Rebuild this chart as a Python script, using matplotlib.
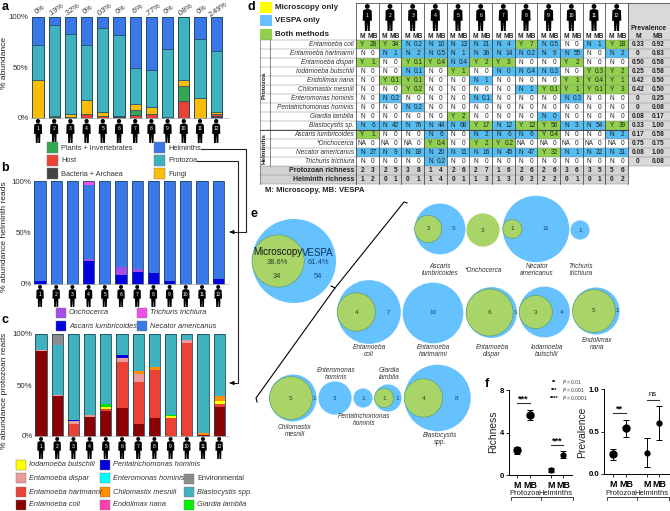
#!/usr/bin/env python3
"""Multi panel figure: stacked bars, VESPA/microscopy table, venn circles, dot plots"""

import matplotlib
matplotlib.use('Agg')
import matplotlib.pyplot as plt
from matplotlib.patches import Circle, Polygon, Rectangle
import numpy as np

plt.rcParams['font.family'] = ['Liberation Sans', 'DejaVu Sans']

W, H = 670, 511
PEOPLE = [str(i) for i in range(1, 13)]

# panel a
A_PCT = ['0%', '.19%', '.32%', '0%', '.03%', '0%', '.6%', '.77%', '0%', '.08%', '0%', '2.49%']
A_BACTERIA = [0, 0.5, 0, 0, 0, 0.5, 0, 0, 0, 0, 0, 1.5]
A_HOST = [0, 0.5, 1, 4, 1.5, 1, 3, 3.5, 0, 17, 0, 2]
A_PLANTS = [0, 0, 0, 0, 0, 0, 5, 0, 0, 15, 0, 0]
A_FUNGI = [37.5, 1, 2.5, 14, 4, 0.5, 6, 7.5, 1, 6, 20, 2.5]
A_PROTOZOA = [34.5, 89.5, 79, 54.5, 83.5, 79.5, 35, 36.5, 67, 62, 58, 60.5]
A_HELMINTHS = [28, 8.5, 17.5, 27.5, 11, 18.5, 51, 52.5, 32, 0, 22, 33.5]

# panel b
B_ASCARIS = [3, 0, 0, 22, 0, 8.5, 12, 11, 2.5, 0, 0, 4.5]
B_ONCHO = [0, 0, 0, 2.5, 0, 8, 3, 0, 0, 0, 0, 0]
B_NECATOR = [97, 100, 100, 71.5, 100, 83.5, 85, 89, 97.5, 100, 100, 95.5]
B_TRICHURIS = [0, 0, 0, 4, 0, 0, 0, 0, 0, 0, 0, 0]

# panel c
C_COLI = [83, 39.5, 0, 19, 24.7, 27, 11.5, 18, 0, 0, 1, 28]
C_HARTMANNI = [0, 0, 12, 0, 1.3, 46, 41.5, 47, 18, 91, 0, 3]
C_DISPAR = [1.5, 0.5, 2.5, 2, 0, 3.3, 7.5, 0, 0, 3, 0, 0]
C_IODAMOEBA = [0, 0, 0, 0, 2, 0, 0, 0, 1.5, 0, 0, 3]
C_CHILOMASTIX = [0, 0, 0, 0, 0, 0, 3.5, 3, 0, 0, 1.5, 5.5]
C_GIARDIA = [0, 0, 0, 0, 3, 0, 0, 0, 1.5, 0, 0, 0]
C_PENTA = [0, 0, 1.5, 0, 0, 3, 0, 0, 0, 0, 0, 0]
C_BLASTO = [15.5, 48.8, 84, 79, 69, 20.7, 35, 32, 79, 5, 97.5, 60.5]
C_ENV = [0, 11.2, 0, 0, 0, 0, 1, 0, 0, 1, 0, 0]

# panel d, "letter value" per person
SPECIES = ['Entamoeba coli', 'Entamoeba hartmanni', 'Entamoeba dispar', 'Iodamoeba butschlii',
           'Endolimax nana', 'Chilomastix mesnili', 'Enteromonas hominis', 'Pentatrichomonas hominis',
           'Giardia lamblia', 'Blastocystis sp.', 'Ascaris lumbricoides', '*Onchocerca',
           'Necator americanus', 'Trichuris trichiura']
CELLS = [
    'Y 28,Y 34,N 0.2,N 10,N 13,N 21,N 4,Y 7,N 0.5,N 0,N 1,Y 18',
    'N 0,N 1,N 2,N 0.5,N 1,N 36,N 14,N 0.2,N 9,N 55,N 0,N 2',
    'Y 1,N 0,Y 0.1,Y 0.4,N 0.4,Y 2,Y 3,N 0,N 0,Y 2,N 0,N 0',
    'N 0,N 0,N 0.1,N 0,Y 1,N 0,N 0,N 0.4,N 0.3,N 0,Y 0.3,Y 2',
    'N 0,Y 0.1,Y 0.1,N 0,N 0,N 1,N 0,N 0,N 0,Y 1,Y 0.4,Y 1',
    'N 0,N 0,Y 0.2,N 0,N 0,N 0,N 0,N 1,Y 0.1,Y 1,Y 0.1,Y 3',
    'N 0,N 0.2,N 0,N 0,N 0,N 0.1,N 0,N 0,N 0,N 0.3,N 0,N 0',
    'N 0,N 0,N 0.2,N 0,N 0,N 0,N 0,N 0,N 0,N 0,N 0,N 0',
    'N 0,N 0,N 0,N 0,Y 2,N 0,N 0,N 0,N 0,N 0,N 0,N 0',
    'N 6,N 42,N 76,N 44,N 68,Y 17,N 12,Y 12,Y 56,N 3,N 54,Y 39',
    'Y 1,N 0,N 0,N 6,N 0,N 2,N 6,N 6,Y 0.4,N 0,N 0,N 2',
    'NA 0,NA 0,NA 0,Y 0.4,N 0,Y 2,Y 0.2,NA 0,NA 0,NA 0,NA 0,NA 0',
    'N 27,N 9,N 18,N 20,N 11,N 16,N 45,N 47,Y 32,N 1,N 22,N 31',
    'N 0,N 0,N 0,N 0.2,N 0,N 0,N 0,N 0,N 0,N 0,N 0,N 0',
]
# zero values that still count as VESPA detections (row, person)
BLUE_ZEROS = [(3, 6), (8, 8)]
PREV_M = ['0.33', '0', '0.50', '0.25', '0.42', '0.42', '0', '0', '0.08', '0.33', '0.17', '0.75', '0.08', '0']
PREV_MB = ['0.92', '0.83', '0.58', '0.58', '0.50', '0.50', '0.25', '0.08', '0.17', '1.00', '0.58', '0.75', '1.00', '0.08']
PROTO_RICH = ['2 3', '2 5', '3 8', '1 4', '2 6', '2 7', '1 6', '2 6', '2 6', '3 6', '3 5', '5 6']
HELM_RICH = ['1 2', '0 1', '0 1', '1 4', '0 1', '1 3', '1 3', '0 2', '2 2', '0 1', '0 1', '0 2']

# panel e
VENN_NAMES = ['Ascaris\nlumbricoides', '*Onchocerca', 'Necator\namericanus', 'Trichuris\ntrichiura',
              'Entamoeba\ncoli', 'Entamoeba\nhartmanni', 'Entamoeba\ndispar', 'Iodamoeba\nbutschlii',
              'Endolimax\nnana', 'Chilomastix\nmesnili', 'Enteromonas\nhominis', 'Pentatrichomonas\nhominis',
              'Giardia\nlamblia', 'Blastocystis\nspp.']
VENN_BOTH = [2, 3, 1, 0, 4, 0, 6, 3, 5, 5, 0, 0, 1, 4]
VENN_VESPA = [5, 0, 11, 1, 7, 10, 1, 4, 1, 1, 3, 1, 1, 8]
TOTAL_BOTH, TOTAL_VESPA = 34, 54

# panel f
GROUP_TICKS = ['M', 'MB', 'M', 'MB']
RICH_MEAN = [2.33, 5.65, 0.5, 1.92]
RICH_ERR = [0.33, 0.45, 0.2, 0.35]
PREV_MEAN = [0.23, 0.54, 0.25, 0.60]
PREV_ERR = [0.06, 0.10, 0.17, 0.195]

BLUE = '#3b78e7'
TEAL = '#3fb1bf'
DARKRED = '#8b0000'
RED = '#ea4335'

fig = plt.figure(figsize=(W / 100, H / 100), dpi=100)


def px_axes(x0, y0, x1, y1):
    ax = fig.add_axes([x0 / W, 1 - y1 / H, (x1 - x0) / W, (y1 - y0) / H])
    ax.patch.set_alpha(0)
    return ax


ov = fig.add_axes([0, 0, 1, 1], zorder=5)
ov.set_xlim(0, W)
ov.set_ylim(H, 0)
ov.axis('off')
ov.patch.set_alpha(0)


def person(cx, top, h, label):
    """Little standing figure with its number on the chest"""
    ov.add_patch(Circle((cx, top + 0.09 * h), 0.09 * h, fc='black', ec='none'))
    s = h
    outline = [(-0.07, 0.19), (0.07, 0.19), (0.16, 0.24), (0.17, 0.62), (0.11, 0.62), (0.10, 0.62),
               (0.09, 1.0), (0.015, 1.0), (0.0, 0.66), (-0.015, 1.0), (-0.09, 1.0), (-0.10, 0.62),
               (-0.17, 0.62), (-0.16, 0.24)]
    ov.add_patch(Polygon([(cx + a * s, top + b * s) for a, b in outline], fc='black', ec='none'))
    ov.text(cx, top + 0.41 * h, label, color='white', fontsize=3.6, ha='center', va='center')


def stacked(x0, x1, top, bottom, first, step, series, colors, sep):
    ax = px_axes(x0, top, x1, bottom)
    pos = np.arange(12)
    base = np.zeros(12)
    for vals, col in zip(series, colors):
        vals = np.array(vals, dtype=float)
        ax.bar(pos, vals, 0.68, bottom=base, color=col,
               edgecolor='#16384f' if sep else col, linewidth=0.4 if sep else 0)
        base += vals
    ax.bar(pos, base, 0.68, fill=False, edgecolor='#1b4a5e', linewidth=0.6, clip_on=False)
    ax.set_xlim((x0 - first) / step, (x1 - first) / step)
    ax.set_ylim(0, 100)
    ax.set_yticks([0, 50, 100], ['0%', '50%', '100%'], fontsize=5.7, color='#333333')
    ax.tick_params(axis='y', length=0, pad=1)
    ax.set_xticks([])
    for s in ['top', 'right', 'left']:
        ax.spines[s].set_visible(False)
    ax.spines['bottom'].set_color('#bbbbbb')
    ax.spines['bottom'].set_linewidth(0.5)
    return ax


def legend_item(x, y, col, text, italic=False, size=5.3, side=10):
    ov.add_patch(Rectangle((x, y - side / 2), side, side, fc=col, ec='#777777', lw=0.3))
    ov.text(x + side + 3, y, text, fontsize=size, va='center', color='#333333',
            style='italic' if italic else 'normal')


# --- panel a
stacked(30, 229, 16.7, 118, 38, 16.2,
        [A_BACTERIA, A_HOST, A_PLANTS, A_FUNGI, A_PROTOZOA, A_HELMINTHS],
        ['#444444', RED, '#34a853', '#fbbc05', TEAL, BLUE], True)
for i, p in enumerate(A_PCT):
    ov.text(38 + 16.2 * i + 2, 9.5, p, rotation=35, fontsize=5.3, ha='center', va='center', color='#333333')
for i, p in enumerate(PEOPLE):
    person(38 + 16.2 * i, 119, 24, p)
ov.text(5, 63, '% abundance', rotation=90, fontsize=6.1, ha='center', va='center', color='#222222')
legend_item(47, 148, '#34a853', 'Plants + Invertebrates', side=11)
legend_item(47, 161, RED, 'Host', side=11)
legend_item(47, 174, '#444444', 'Bacteria + Archaea', side=11)
legend_item(154, 148, BLUE, 'Helminths', side=11)
legend_item(154, 161, TEAL, 'Protozoa', side=11)
legend_item(154, 174, '#fbbc05', 'Fungi', side=11)

# connector arrows
ov.plot([201, 246, 246, 231], [149, 149, 232, 232], color='#222222', lw=0.8)
ov.plot([197, 238, 238, 231], [161.5, 161.5, 383, 383], color='#222222', lw=0.8)
ov.annotate('', xy=(227, 232), xytext=(233, 232), arrowprops=dict(arrowstyle='-|>', color='black', lw=0.6, mutation_scale=6))
ov.annotate('', xy=(227, 383), xytext=(233, 383), arrowprops=dict(arrowstyle='-|>', color='black', lw=0.6, mutation_scale=6))

# --- panel b
stacked(33, 229, 181, 284, 40, 16.2,
        [B_ASCARIS, B_ONCHO, B_NECATOR, B_TRICHURIS],
        ['#0000e0', '#a64de8', BLUE, '#f050e8'], False)
for i, p in enumerate(PEOPLE):
    person(40 + 16.2 * i, 285, 22, p)
ov.text(5, 237, '% abundance helminth reads', rotation=90, fontsize=6.1, ha='center', va='center', color='#222222')
legend_item(56, 313, '#a64de8', 'Onchocerca', True)
legend_item(137, 313, '#f050e8', 'Trichuris trichiura', True)
legend_item(56, 326, '#0000e0', 'Ascaris lumbricoides', True)
legend_item(137, 326, BLUE, 'Necator americanus', True)

# --- panel c
stacked(34, 229, 334, 436, 41, 16.2,
        [C_COLI, C_HARTMANNI, C_DISPAR, C_IODAMOEBA, C_CHILOMASTIX, C_GIARDIA, C_PENTA, C_BLASTO, C_ENV],
        [DARKRED, RED, '#ee9a9a', '#ffff00', '#ff9000', '#00e000', '#0000e0', TEAL, '#8c8c8c'], False)
for i, p in enumerate(PEOPLE):
    person(41 + 16.2 * i, 437, 22, p)
ov.text(5, 391, '% abundance protozoan reads', rotation=90, fontsize=6.1, ha='center', va='center', color='#222222')
for x, y, col, name in [(16, 465, '#ffff00', 'Iodamoeba butschlii'), (16, 478, '#ee9a9a', 'Entamoeba dispar'),
                        (16, 492, RED, 'Entamoeba hartmanni'), (16, 505, DARKRED, 'Entamoeba coli'),
                        (100, 465, '#0000e0', 'Pentatrichomonas hominis'), (100, 478, '#00ffff', 'Enteromonas hominis'),
                        (100, 492, '#ff9000', 'Chilomastix mesnili'), (100, 505, '#ff40b0', 'Endolimax nana'),
                        (184, 492, TEAL, 'Blastocystis spp.'), (184, 505, '#00f000', 'Giardia lamblia')]:
    legend_item(x, y, col, name, True)
legend_item(184, 479, '#8c8c8c', 'Environmental')

# --- panel letters
for letter, x, y in [('a', 5, 7), ('b', 5, 168), ('c', 5, 320), ('d', 251, 7), ('e', 254, 214), ('f', 487, 384)]:
    ov.text(x, y, letter, fontsize=9, fontweight='bold', ha='center', va='center')

# --- panel d
CW = (628 - 356) / 12
RH = 8.96
TOP = 40.5
TBL_BLUE = '#55bdf2'
TBL_GREEN = '#92d050'

legend_d = [(7.5, '#ffff00', 'Microscopy only'), (21, '#66c2ff', 'VESPA only'), (34.5, TBL_GREEN, 'Both methods')]
for y, col, name in legend_d:
    ov.add_patch(Rectangle((260, y - 5.5), 12, 11, fc=col, ec='none'))
    ov.text(275, y, name, fontsize=5.8, fontweight='bold', va='center', color='#222222')

ov.add_patch(Rectangle((628, 3), 42, TOP - 3 + RH * 14, fc='#d9d9d9', ec='none'))
ov.add_patch(Rectangle((260, TOP + RH * 14), 368, RH * 2, fc='#d2d2d2', ec='none'))

for r, row in enumerate(CELLS):
    y = TOP + r * RH
    ov.text(354, y + RH / 2, SPECIES[r], fontsize=4.7, style='italic', ha='right', va='center', color='#333333')
    for c, cell in enumerate(row.split(',')):
        letter, value = cell.split()
        x = 356 + c * CW
        if letter == 'Y':
            ov.add_patch(Rectangle((x, y), CW, RH, fc=TBL_GREEN, ec='none'))
        elif letter == 'N' and (value != '0' or (r, c) in BLUE_ZEROS):
            ov.add_patch(Rectangle((x, y), CW, RH, fc=TBL_BLUE, ec='none'))
        ov.text(x + 6.5, y + RH / 2, letter, fontsize=4.7, ha='center', va='center', color='#222222')
        ov.text(x + 17, y + RH / 2, value, fontsize=4.7, ha='center', va='center', color='#222222')
    ov.text(638, y + RH / 2, PREV_M[r], fontsize=4.7, fontweight='bold', ha='center', va='center', color='#222222')
    ov.text(658, y + RH / 2, PREV_MB[r], fontsize=4.7, fontweight='bold', ha='center', va='center', color='#222222')

for k, (label, vals) in enumerate([('Protozoan richness', PROTO_RICH), ('Helminth richness', HELM_RICH)]):
    y = TOP + (14 + k) * RH
    ov.text(354, y + RH / 2, label, fontsize=5, fontweight='bold', ha='right', va='center', color='#222222')
    for c, v in enumerate(vals):
        a, b = v.split()
        ov.text(356 + c * CW + 6.5, y + RH / 2, a, fontsize=4.7, fontweight='bold', ha='center', va='center', color='#222222')
        ov.text(356 + c * CW + 17, y + RH / 2, b, fontsize=4.7, fontweight='bold', ha='center', va='center', color='#222222')

for r in range(17):
    ov.plot([260, 670 if r < 15 else 628], [TOP + r * RH] * 2, color='#888888', lw=0.35)
ov.plot([260, 628], [TOP + 10 * RH] * 2, color='#333333', lw=0.6)
ov.plot([260, 260], [TOP, TOP + 16 * RH], color='#555555', lw=0.4)
ov.plot([270, 270], [TOP, TOP + 14 * RH], color='#333333', lw=0.4)
for c in range(13):
    ov.plot([356 + c * CW] * 2, [3, TOP + 16 * RH], color='#333333', lw=0.5)
ov.plot([356, 670], [3, 3], color='#333333', lw=0.5)
ov.text(264.5, TOP + 5 * RH, 'Protozoa', rotation=90, fontsize=4.6, fontweight='bold', ha='center', va='center', color='#222222')
ov.text(264.5, TOP + 12 * RH, 'Helminths', rotation=90, fontsize=4.6, fontweight='bold', ha='center', va='center', color='#222222')

for c, p in enumerate(PEOPLE):
    person(356 + (c + 0.5) * CW, 4, 27, p)
    ov.text(356 + c * CW + 6, 36, 'M', fontsize=4.8, fontweight='bold', ha='center', va='center', color='#222222')
    ov.text(356 + c * CW + 16.5, 36, 'MB', fontsize=4.8, fontweight='bold', ha='center', va='center', color='#222222')
ov.text(649, 28, 'Prevalence', fontsize=4.9, fontweight='bold', ha='center', va='center', color='#222222')
ov.text(638, 36.5, 'M', fontsize=4.9, fontweight='bold', ha='center', va='center', color='#222222')
ov.text(658, 36.5, 'MB', fontsize=4.9, fontweight='bold', ha='center', va='center', color='#222222')
ov.text(265, 191, 'M: Microscopy, MB: VESPA', fontsize=5.6, fontweight='bold', va='center', color='#222222')

# --- panel e
VENN_BLUE = '#66c2ff'
VENN_GREEN = '#a8d468'
VENN_EDGE = '#5f9f73'


def venn(cx, cy, both, vespa, k=9.6, counts=True):
    """Circle area follows the counts, green sits inside the left rim of the blue one"""
    R = k * np.sqrt(both + vespa)
    r = k * np.sqrt(both)
    gx, ox = None, None
    if vespa:
        ov.add_patch(Circle((cx, cy), R, fc=VENN_BLUE, ec='none'))
    if both and vespa:
        gx = cx - (R - r)
        ov.add_patch(Circle((gx, cy), r, fc=VENN_GREEN, ec=VENN_EDGE, lw=0.5))
        ox = (gx + r + cx + R) / 2
    elif vespa:
        ox = cx
    else:
        gx = cx
        ov.add_patch(Circle((cx, cy), r, fc=VENN_GREEN, ec='none'))
    if not counts:
        return
    if gx is not None:
        ov.text(gx, cy, str(both), fontsize=4.6, ha='center', va='center', color='#224422')
    if ox is not None:
        ov.text(ox, cy, str(vespa), fontsize=4.6, ha='center', va='center', color='#114477')


centers_x = [440, 483, 536, 580, 369, 433, 491.5, 544.5, 596, 293, 335, 363, 388, 437.5]
centers_y = [229, 230, 229, 230, 312, 313, 312.5, 312, 311, 398, 398, 398, 398, 398]
label_pos = [(440, 270), (483, 270), (537, 270), (581, 270), (369, 351), (433, 351), (492, 351), (547, 351),
             (597, 344), (295, 431), (336, 374), (364, 420), (389, 374), (440, 439)]
for i, name in enumerate(VENN_NAMES):
    venn(centers_x[i], centers_y[i], VENN_BOTH[i], VENN_VESPA[i])
    ov.text(label_pos[i][0], label_pos[i][1], name, fontsize=4.7, style='italic', ha='center', va='center',
            color='#333333', linespacing=1.05)

venn(294, 261, TOTAL_BOTH, TOTAL_VESPA, k=4.48, counts=False)
ov.text(278, 252, 'Microscopy', fontsize=7, ha='center', va='center', color='#111111')
ov.text(318, 253, 'VESPA', fontsize=7, ha='center', va='center', color='#0b2f5e')
share = 100 * TOTAL_BOTH / (TOTAL_BOTH + TOTAL_VESPA)
ov.text(277, 262, f'{share:.1f}%', fontsize=5.4, ha='center', va='center', color='#224422')
ov.text(318, 262, f'{100 - share:.1f}%', fontsize=5.4, ha='center', va='center', color='#114477')
ov.text(277, 276, str(TOTAL_BOTH), fontsize=5.4, ha='center', va='center', color='#224422')
ov.text(318, 276, str(TOTAL_VESPA), fontsize=5.4, ha='center', va='center', color='#114477')

# big brace
ov.plot([407, 404, 335, 331], [203, 202, 288, 286], color='black', lw=0.8)
ov.plot([335, 256, 257], [288, 398, 402], color='black', lw=0.8)


# --- panel f
def dotplot(x0, x1, top, bottom, xs, ymax, means, errs, yticks, yticklabels, ylabel, ylabel_x):
    ax = px_axes(x0, top, x1, bottom)
    ax.set_xlim(x0, x1)
    ax.set_ylim(0, ymax)
    for i, (x, m, e) in enumerate(zip(xs, means, errs)):
        ax.errorbar(x, m, yerr=e, fmt='o', color='black', ms=5 if i < 2 else 3.5,
                    elinewidth=0.7, capsize=2.2, capthick=0.7)
    ax.set_xticks(xs, GROUP_TICKS, fontsize=6.4, fontweight='bold')
    ax.set_yticks(yticks, yticklabels, fontsize=5.6, fontweight='bold')
    ax.tick_params(length=2, width=0.6, pad=1.5)
    ax.tick_params(axis='x', pad=2.5)
    for s in ['top', 'right']:
        ax.spines[s].set_visible(False)
    for s in ['left', 'bottom']:
        ax.spines[s].set_linewidth(0.7)
    ov.text(ylabel_x, 432, ylabel, rotation=90, fontsize=7.4, ha='center', va='center', color='#222222')
    ov.text((xs[0] + xs[1]) / 2 + 1.5, 493.5, 'Protozoa', fontsize=5.5, ha='center', va='center', color='#222222')
    ov.text((xs[2] + xs[3]) / 2 - 2, 493.5, 'Helminths', fontsize=5.5, ha='center', va='center', color='#222222')
    a, mid, b = xs[0] - 6, (xs[1] + xs[2]) / 2, xs[3] + 10
    ov.plot([a, a, b, b], [500, 497.5, 497.5, 500], color='#222222', lw=0.6)
    ov.plot([mid, mid], [497.5, 500], color='#222222', lw=0.6)
    return ax


F_X1 = [517, 530, 551, 563]
F_X2 = [613, 626, 647, 659]
dotplot(509, 572, 390, 475, F_X1, 8, RICH_MEAN, RICH_ERR, [0, 4, 8], ['0', '4', '8'], 'Richness', 493)
dotplot(604, 669, 389, 474, F_X2, 1.0, PREV_MEAN, PREV_ERR, [0, 0.5, 1.0], ['0.0', '0.5', '1.0'], 'Prevalence', 582)

for x_a, x_b, y, txt in [(517, 530, 403, '***'), (551, 563, 445, '***'), (613, 626, 413, '**'), (647, 659, 400, 'ns')]:
    ov.plot([x_a, x_b], [y, y], color='#333333', lw=0.8)
    ov.text((x_a + x_b) / 2, y - (1.5 if txt != 'ns' else 5), txt, fontsize=6.5 if txt != 'ns' else 5.5,
            fontweight='bold' if txt != 'ns' else 'normal', ha='center', va='center' if txt == 'ns' else 'baseline')
for y, stars, p in [(382, '**', '0.01'), (390, '***', '0.001'), (398, '****', '0.0001')]:
    ov.text(554, y, stars, fontsize=4, fontweight='bold', ha='center', va='center')
    ov.text(562, y, f'$\\it{{P}}$ < {p}', fontsize=3.6, va='center', color='#333333')

fig.savefig('out.png', dpi=100)
